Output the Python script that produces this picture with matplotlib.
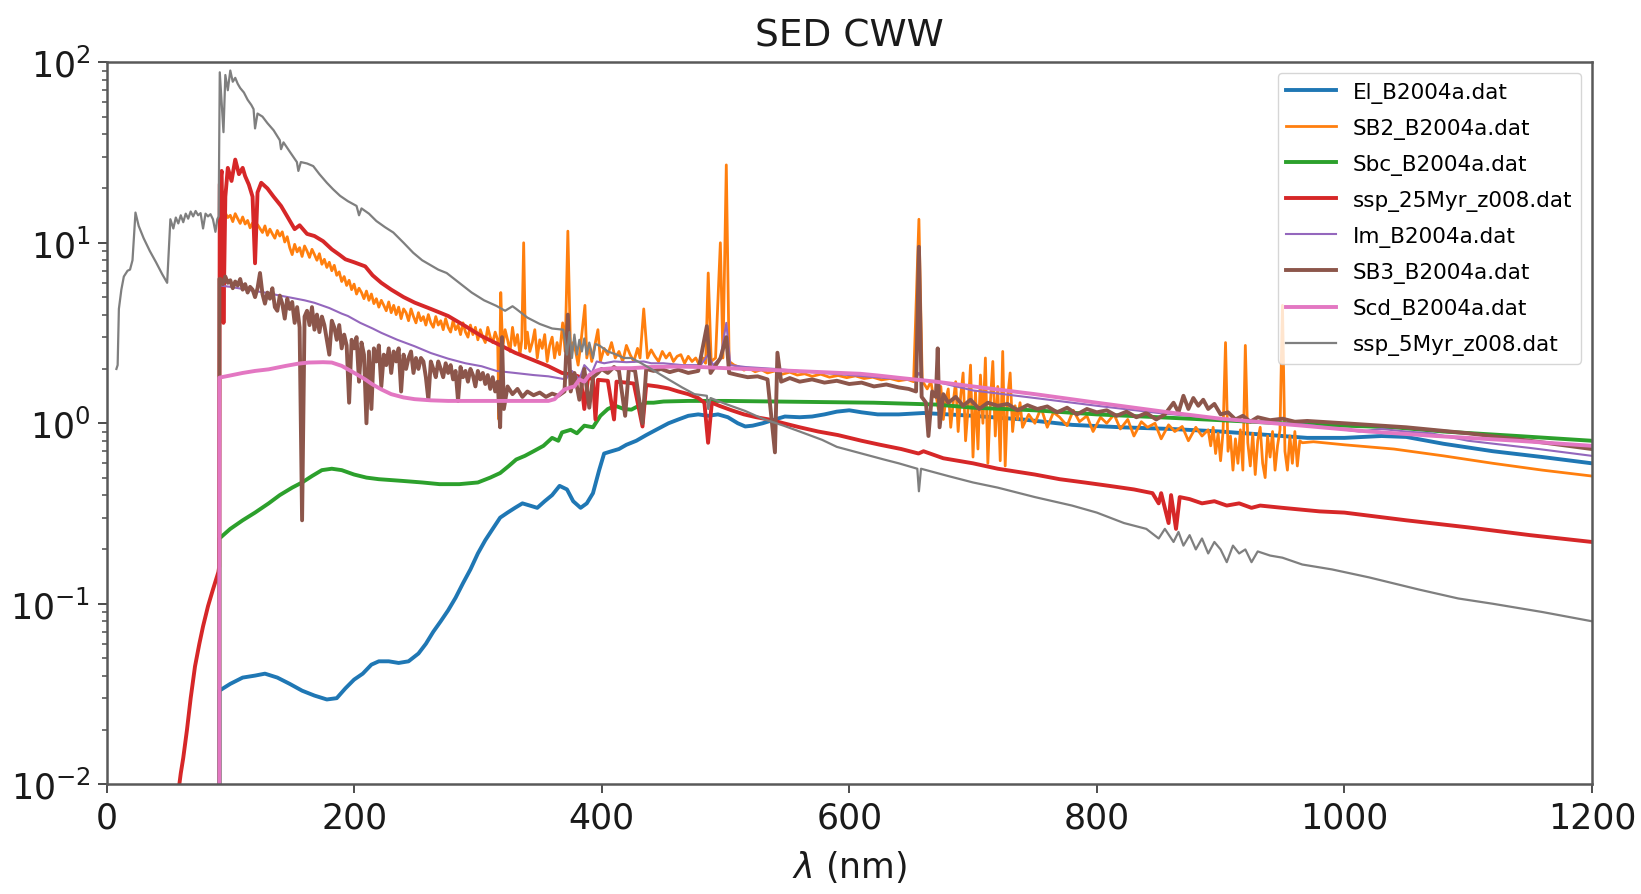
import matplotlib
matplotlib.use("Agg")
import matplotlib.pyplot as plt

# wavelength in nm, flux in arbitrary units (one pair of lists per template)
wl_el = [90.8, 91.2, 100, 110, 120, 128, 138, 148, 158, 168,
         178, 186, 193, 200, 207, 214, 220, 228, 236, 244,
         252, 258, 264, 270, 276, 282, 288, 294, 300, 306,
         312, 318, 324, 330, 336, 342, 348, 354, 360, 366,
         372, 377, 383, 388, 393, 398, 402, 408, 414, 420,
         428, 436, 444, 454, 462, 470, 478, 486, 494, 502,
         510, 516, 522, 530, 540, 548, 560, 570, 580, 590,
         600, 610, 623, 640, 660, 680, 700, 740, 780, 820,
         860, 900, 940, 970, 1000, 1030, 1050, 1080, 1120, 1160,
         1200]
fl_el = [0, 0.033, 0.036, 0.039, 0.040, 0.041, 0.039, 0.036, 0.033, 0.031,
         0.0295, 0.030, 0.034, 0.038, 0.041, 0.046, 0.048, 0.048, 0.047, 0.048,
         0.053, 0.06, 0.07, 0.08, 0.092, 0.108, 0.13, 0.155, 0.19, 0.225,
         0.26, 0.30, 0.32, 0.34, 0.36, 0.35, 0.34, 0.37, 0.40, 0.45,
         0.43, 0.37, 0.34, 0.36, 0.41, 0.55, 0.68, 0.70, 0.72, 0.76,
         0.80, 0.86, 0.92, 1.0, 1.05, 1.1, 1.12, 1.1, 1.12, 1.08,
         1.0, 0.96, 0.97, 1.0, 1.05, 1.09, 1.08, 1.09, 1.12, 1.16,
         1.18, 1.15, 1.12, 1.12, 1.14, 1.12, 1.1, 1.05, 0.98, 0.95,
         0.93, 0.9, 0.86, 0.83, 0.83, 0.85, 0.84, 0.77, 0.70, 0.65,
         0.60]

# SB2: UV part sampled every 2 nm from 92 to 316 nm
fl_sb2_uv = [14.3, 13.4, 14.6, 13.8, 14.2, 13.1, 14.5, 13.6, 12.8, 13.9,
             12.7, 13.3, 12.1, 12.9, 11.8, 12.6, 12.0, 11.4, 12.4, 11.0,
             11.9, 11.2, 10.6, 11.7, 10.9, 11.5, 10.1, 10.8, 9.4, 8.6,
             9.8, 8.9, 9.4, 8.4, 9.6, 9.0, 8.3, 9.2, 8.6, 8.0,
             8.7, 7.6, 8.1, 7.3, 7.8, 7.0, 7.5, 6.6, 6.9, 6.1,
             6.5, 5.8, 6.2, 5.5, 5.9, 5.2, 5.6, 5.3, 4.9, 5.4,
             4.8, 5.2, 4.6, 4.9, 4.4, 4.8, 4.5, 4.2, 4.7, 4.1,
             4.5, 4.0, 4.4, 3.8, 4.3, 4.1, 3.7, 4.3, 3.9, 3.6,
             4.1, 3.7, 3.9, 3.5, 4.0, 3.6, 3.4, 3.9, 3.5, 3.7,
             3.3, 3.8, 3.4, 3.2, 3.7, 3.3, 3.5, 3.1, 3.6, 3.2,
             3.0, 3.5, 3.1, 3.4, 2.9, 3.3, 3.0, 2.8, 3.4, 3.0,
             2.8, 3.2, 2.9]
# SB2: optical part with the emission lines
sb2_opt = [(317, 1.05), (318.5, 5.3), (320, 2.6), (322, 3.3), (324, 2.9), (326, 2.5),
           (328, 3.4), (330, 2.7), (332, 3.1), (334, 2.4), (335.5, 2.9), (337, 10.0),
           (338.5, 2.6), (340, 3.2), (342, 2.5), (344, 2.8), (346, 3.3), (348, 2.3),
           (350, 2.9), (352, 2.6), (354, 3.1), (356, 2.2), (358, 2.7), (360, 3.0),
           (362, 2.3), (364, 2.8), (366, 2.4), (368.5, 3.6), (370.5, 2.5), (372.7, 11.6),
           (375, 2.3), (377, 2.8), (379, 2.5), (381, 2.1), (383, 2.7), (386.5, 4.5),
           (388, 2.3), (390, 2.7), (392, 2.2), (394, 2.6), (397, 3.3), (399, 2.2),
           (402, 2.6), (405, 2.4), (408, 2.8), (411, 2.3), (414, 2.5), (417, 2.2),
           (420, 2.7), (423, 2.4), (426, 2.2), (429, 2.6), (431, 2.3), (434, 4.3),
           (437, 2.3), (440, 2.55), (443, 2.35), (446, 2.2), (449, 2.5), (452, 2.3),
           (455, 2.45), (458, 2.2), (461, 2.35), (464, 2.4), (467, 2.15), (470, 2.35),
           (473, 2.2), (476, 2.3), (479, 2.1), (482, 2.3), (484, 2.15), (486.1, 6.8),
           (488.5, 2.2), (492, 2.3), (495.9, 10.0), (498, 2.3), (500.7, 27.0), (503, 2.2),
           (507, 2.1), (511, 2.05), (515, 1.97), (519, 2.02), (524, 1.93), (529, 1.98),
           (534, 1.9), (540, 1.95), (546, 1.87), (552, 1.92), (558, 1.85), (564, 1.88),
           (570, 1.82), (577, 1.87), (584, 1.8), (591, 1.84), (598, 1.79), (605, 1.83),
           (612, 1.77), (619, 1.8), (626, 1.74), (633, 1.77), (640, 1.72), (647, 1.75),
           (652, 1.7), (656.3, 13.5), (659, 1.72), (663, 1.55), (666, 1.7), (668, 1.4)]
# SB2: noisy red part, every 2 nm from 670 to 740 nm
fl_sb2_red1 = [1.45, 1.2, 1.6, 1.05, 1.35, 1.55, 0.95, 1.3, 1.7, 0.9,
               1.4, 1.9, 0.8, 1.2, 2.1, 0.65, 1.5, 0.72, 1.85, 1.0,
               2.3, 0.6, 1.3, 2.2, 0.85, 1.6, 0.62, 2.5, 0.58, 1.4,
               1.9, 0.9, 1.25, 1.05, 1.3, 0.95]
sb2_mid = [(745, 1.12), (750, 1.0), (755, 1.22), (760, 0.95), (765, 1.15), (770, 1.08),
           (776, 0.97), (781, 1.18), (786, 1.02), (792, 1.1), (797, 0.9), (803, 1.08),
           (808, 1.0), (814, 1.12), (819, 0.93), (825, 1.05), (830, 0.85), (836, 1.02),
           (841, 0.95), (847, 1.0), (852, 0.82), (858, 0.98), (863, 0.9), (869, 0.96),
           (874, 0.8), (880, 0.95), (885, 0.85), (890, 0.92)]
# SB2: every 2 nm from 892 to 966 nm
fl_sb2_red2 = [0.75, 0.95, 0.68, 0.88, 0.62, 0.9, 2.8, 0.7, 0.85, 0.55,
               0.82, 0.6, 0.92, 0.55, 2.7, 0.78, 0.58, 0.88, 0.52, 0.8,
               0.95, 0.6, 0.5, 0.85, 0.65, 0.9, 0.55, 0.75, 0.92, 4.5,
               0.7, 0.55, 0.85, 0.6, 0.9, 0.58, 0.8, 0.78]
sb2_tail = [(975, 0.79), (1000, 0.76), (1040, 0.72), (1080, 0.66), (1120, 0.6),
            (1160, 0.55), (1200, 0.51)]

wl_sbc = [90.8, 91.2, 100, 110, 120, 131, 140, 150, 158, 166,
          174, 182, 190, 200, 210, 220, 238, 255, 269, 285,
          300, 310, 318, 325, 331, 338, 345, 353, 360, 365,
          368, 375, 380, 386, 393, 399, 405, 411, 418, 424,
          430, 436, 442, 450, 470, 500, 540, 580, 620, 670,
          700, 750, 800, 850, 900, 950, 1000, 1040, 1080, 1140,
          1200]
fl_sbc = [0, 0.23, 0.26, 0.29, 0.32, 0.36, 0.40, 0.44, 0.47, 0.51,
          0.55, 0.56, 0.55, 0.52, 0.50, 0.49, 0.48, 0.47, 0.46, 0.46,
          0.47, 0.50, 0.53, 0.58, 0.63, 0.66, 0.70, 0.75, 0.83, 0.80,
          0.89, 0.92, 0.88, 0.97, 0.95, 1.1, 1.2, 1.25, 1.2, 1.19,
          1.25, 1.3, 1.3, 1.32, 1.33, 1.33, 1.32, 1.31, 1.3, 1.27,
          1.22, 1.18, 1.12, 1.08, 1.04, 1.0, 0.97, 0.95, 0.9, 0.85,
          0.8]

wl_ssp25 = [57, 60, 62, 65, 68, 71.5, 75, 78, 82, 86,
            90.4, 91.0, 91.5, 93, 94.5, 96, 98, 101, 104, 107,
            110, 112, 115, 118, 120, 122, 125, 130, 135, 141,
            146, 152, 156, 162, 168, 175, 182, 188, 193, 200,
            209, 215, 222, 230, 240, 249, 262, 276, 290, 303,
            316, 330, 344, 357, 368, 378, 383, 386, 389, 393,
            395, 397, 405, 410, 412, 420, 426, 433, 436, 445,
            454, 462, 470, 478, 483, 486, 489, 495, 505, 515,
            525, 535, 547, 560, 575, 591, 610, 625, 642, 656,
            660, 676, 700, 720, 750, 770, 790, 810, 830, 845,
            850, 852, 858, 860, 864, 867, 875, 885, 895, 905,
            915, 925, 932, 950, 980, 1000, 1050, 1100, 1150, 1200]
fl_ssp25 = [0.008, 0.0115, 0.014, 0.020, 0.030, 0.045, 0.060, 0.075, 0.097, 0.12,
            0.15, 0.16, 21, 25, 3.6, 18, 26, 22, 28.9, 24,
            26, 23.4, 21, 18, 7.7, 19, 21.5, 20, 18, 16,
            14, 11.9, 12.5, 11.2, 10.9, 10.2, 9.2, 8.6, 8.1, 7.8,
            7.4, 6.6, 6.0, 5.5, 5.0, 4.66, 4.3, 3.93, 3.45, 3.04,
            2.75, 2.46, 2.25, 2.07, 1.9, 1.85, 1.8, 1.2, 1.78, 1.76,
            1.05, 1.74, 1.72, 1.05, 1.7, 1.68, 1.66, 0.96, 1.63, 1.6,
            1.56, 1.5, 1.45, 1.38, 1.3, 0.78, 1.3, 1.25, 1.18, 1.12,
            1.08, 1.05, 1.0, 0.95, 0.9, 0.86, 0.8, 0.76, 0.72, 0.68,
            0.7, 0.64, 0.6, 0.56, 0.52, 0.49, 0.47, 0.45, 0.43, 0.41,
            0.36, 0.41, 0.28, 0.40, 0.26, 0.39, 0.38, 0.36, 0.37, 0.35,
            0.36, 0.34, 0.35, 0.34, 0.325, 0.32, 0.29, 0.265, 0.24, 0.22]

wl_im = [90.8, 91.2, 100, 110, 120, 128, 140, 150, 160, 168,
         180, 190, 195, 205, 215, 222, 235, 249, 262, 276,
         290, 303, 315, 330, 345, 357, 365, 371, 376, 382,
         386, 392, 396, 402, 410, 420, 434, 440, 450, 465,
         480, 486, 490, 496, 500.7, 504, 516, 540, 570, 600,
         630, 653, 656.3, 660, 670, 700, 750, 800, 850, 900,
         970, 1012, 1030, 1050, 1070, 1100, 1150, 1200]
fl_im = [0, 5.8, 5.7, 5.55, 5.4, 5.3, 5.1, 4.95, 4.8, 4.65,
         4.35, 4.05, 3.93, 3.6, 3.35, 3.17, 2.9, 2.67, 2.45, 2.28,
         2.15, 2.07, 1.95, 1.9, 1.85, 1.82, 1.78, 1.75, 1.95, 1.75,
         2.1, 1.9, 2.2, 2.15, 2.2, 2.18, 2.2, 2.15, 2.15, 2.1,
         2.1, 2.4, 2.1, 2.3, 3.6, 2.1, 2.05, 2.0, 1.92, 1.85,
         1.78, 1.74, 1.9, 1.73, 1.7, 1.52, 1.38, 1.25, 1.14, 1.06,
         0.98, 0.9, 0.93, 0.9, 0.88, 0.8, 0.73, 0.66]

# SB3: UV part sampled every 2 nm from 92 to 316 nm
fl_sb3_uv = [6.3, 5.9, 6.5, 6.0, 6.2, 5.6, 6.1, 5.8, 6.3, 5.5,
             5.9, 5.3, 5.7, 5.5, 5.0, 5.6, 6.8, 5.2, 4.6, 5.3,
             4.9, 5.6, 4.4, 4.2, 5.1, 4.6, 3.8, 4.9, 4.3, 4.7,
             3.6, 4.4, 3.4, 0.29, 3.9, 4.2, 3.5, 4.4, 3.3, 4.0,
             3.2, 3.9, 3.5, 2.9, 2.4, 3.7, 3.4, 2.9, 3.5, 2.6,
             3.1, 2.7, 1.3, 2.9, 2.6, 3.0, 1.7, 2.8, 2.4, 1.0,
             2.5, 1.2, 2.6, 2.2, 2.7, 1.6, 2.4, 2.1, 2.6, 1.9,
             2.5, 2.2, 2.6, 1.5, 2.4, 2.0, 2.3, 2.5, 1.9, 2.3,
             2.0, 2.3, 2.2, 1.8, 1.35, 2.2, 2.0, 1.8, 2.2, 2.0,
             1.8, 2.15, 1.9, 2.1, 1.75, 1.95, 1.33, 2.05, 1.8, 1.95,
             1.7, 2.0, 1.85, 1.6, 1.95, 1.75, 1.9, 1.65, 1.85, 1.55,
             1.8, 1.5, 1.7]
sb3_opt = [(318, 0.95), (319.5, 3.0), (321, 1.2), (324, 1.6), (328, 1.45), (332, 1.55),
           (336, 1.4), (340, 1.5), (345, 1.43), (350, 1.48), (355, 1.4), (360, 1.46),
           (365, 1.42), (370, 1.5), (372.7, 4.0), (375, 1.5), (378, 1.9), (382, 1.35),
           (386, 2.0), (390, 1.22), (393, 1.8), (397, 1.9), (400, 2.0), (405, 1.9),
           (410, 2.05), (414, 1.95), (419, 1.1), (422, 2.0), (427, 1.95), (433, 1.0),
           (436, 2.0), (442, 1.95), (448, 2.0), (455, 1.92), (462, 1.98), (470, 1.9),
           (478, 1.95), (485, 3.45), (488, 1.9), (496, 2.3), (500.7, 3.0), (503, 1.9),
           (510, 1.85), (518, 1.8), (526, 1.82), (534, 1.75), (540, 0.69), (542, 2.46),
           (545, 1.7), (552, 1.78), (560, 1.7), (570, 1.75), (580, 1.68), (590, 1.72),
           (600, 1.65), (610, 1.68), (620, 1.6), (630, 1.64), (640, 1.58), (648, 1.55),
           (654, 1.5), (656.3, 9.5), (658.5, 1.4), (662, 1.3), (664, 0.85), (667, 1.5),
           (670, 1.4), (671.5, 2.6), (673, 0.95), (676, 1.45), (680, 1.3), (686, 1.4),
           (692, 1.25), (698, 1.35), (705, 1.2), (712, 1.3), (720, 1.25), (728, 1.28),
           (736, 1.18), (744, 1.26), (752, 1.2), (760, 1.24), (768, 1.15), (776, 1.22),
           (784, 1.12), (792, 1.2), (800, 1.15), (808, 1.18), (816, 1.1), (824, 1.16),
           (832, 1.08), (840, 1.14), (848, 1.05), (855, 1.12), (862, 1.3), (866, 1.15),
           (870, 1.42), (874, 1.2), (878, 1.38), (882, 1.25), (886, 1.35), (890, 1.2),
           (895, 1.28), (900, 1.12), (906, 1.15), (912, 1.05), (918, 1.1), (924, 1.02),
           (930, 1.08), (940, 1.04), (950, 1.06), (960, 1.02), (970, 1.03), (1000, 1.0),
           (1050, 0.95), (1100, 0.88), (1150, 0.8), (1200, 0.72)]

wl_scd = [90.8, 91.2, 100, 110, 120, 131, 145, 155, 163, 175,
          182, 190, 195, 202, 209, 215, 222, 230, 240, 249,
          262, 276, 300, 330, 357, 362, 366, 370, 375, 378,
          382, 386, 390, 395, 399, 410, 424, 440, 460, 480,
          500, 516, 540, 570, 609, 623, 642, 670, 700, 750,
          800, 858, 900, 966, 1020, 1074, 1140, 1200]
fl_scd = [0, 1.79, 1.84, 1.9, 1.95, 1.99, 2.08, 2.14, 2.17, 2.18,
          2.17, 2.08, 1.99, 1.87, 1.75, 1.64, 1.54, 1.45, 1.39, 1.36,
          1.34, 1.33, 1.33, 1.33, 1.33, 1.36, 1.45, 1.54, 1.58, 1.6,
          1.75, 1.7, 1.85, 1.95, 1.99, 2.02, 2.02, 2.05, 2.06, 2.05,
          2.02, 2.0, 1.97, 1.93, 1.88, 1.84, 1.78, 1.7, 1.6, 1.45,
          1.3, 1.15, 1.06, 0.97, 0.9, 0.85, 0.8, 0.75]

wl_ssp5 = [8, 9, 10, 12, 14, 17, 19, 21, 23.4, 26,
           30, 35, 40, 45, 49, 51.6, 54, 56, 58, 60,
           62, 64, 66, 68, 70, 72, 74, 76, 78, 80,
           82, 84, 86, 88, 89.5, 90.6, 91.5, 93, 94.5, 96,
           98, 100, 102, 104, 106, 108, 111, 114, 117, 118.8,
           120, 122, 126, 130, 135, 140, 141, 143, 148, 153.8,
           155, 157, 162, 167, 172, 178, 183, 188.7, 195, 202,
           204, 206, 212, 218, 225, 231.7, 240, 247.8, 255, 262,
           268, 274.8, 285, 295, 305, 315, 322, 328, 331, 340,
           350, 360, 369, 372, 374, 376, 378, 380, 382, 384,
           386, 388, 390, 393, 395, 398, 405, 412, 418, 424,
           432, 440, 454, 465, 475, 485, 486.1, 488, 500, 516,
           530, 547, 560, 578, 590, 610, 628, 640, 655, 656.3,
           658, 680, 700, 720, 750, 780, 800, 822, 840, 850,
           855, 862, 866, 870, 875, 880, 885, 890, 895, 900,
           905, 910, 915, 920, 925, 930, 940, 950, 966, 990,
           1020, 1060, 1092, 1120, 1160, 1200]
fl_ssp5 = [2.0, 2.1, 4.3, 5.5, 6.5, 7.0, 7.1, 8.0, 14.7, 12.4,
           10.6, 9.0, 7.8, 6.7, 6.0, 13.5, 12.0, 13.8, 12.8, 14.2,
           13.0, 14.5, 13.6, 14.9, 14.0, 15.0, 14.2, 14.6, 12.0, 14.5,
           14.0, 14.4, 13.5, 11.5, 13.5, 14.0, 88, 60, 41, 85,
           70, 90, 78, 82, 76, 72, 68, 62, 58, 55,
           43, 52, 50, 46, 42, 37, 33, 36, 32, 28,
           25, 28, 27.5, 26.6, 24, 21.5, 19.8, 18.2, 17, 16,
           14.2, 15.5, 14.5, 13.2, 12.2, 11.4, 10.0, 8.8, 8.0, 7.5,
           7.1, 6.8, 6.0, 5.3, 4.8, 4.47, 4.2, 4.45, 4.3, 3.85,
           3.55, 3.35, 3.3, 2.4, 3.2, 2.3, 3.1, 2.4, 2.9, 2.5,
           2.95, 2.4, 2.8, 2.3, 2.75, 2.7, 2.5, 2.4, 2.3, 2.3,
           2.15, 2.0, 1.75, 1.58, 1.45, 1.42, 1.2, 1.38, 1.28, 1.17,
           1.06, 0.97, 0.9, 0.81, 0.74, 0.68, 0.63, 0.6, 0.56, 0.42,
           0.56, 0.51, 0.47, 0.44, 0.39, 0.35, 0.32, 0.28, 0.26, 0.23,
           0.26, 0.22, 0.25, 0.21, 0.24, 0.2, 0.23, 0.19, 0.22, 0.2,
           0.17, 0.21, 0.19, 0.2, 0.17, 0.195, 0.185, 0.18, 0.165, 0.155,
           0.14, 0.12, 0.107, 0.1, 0.09, 0.08]

# stitch the SB2 and SB3 pieces together
wl_sb2 = ([90.8, 91.2] + list(range(92, 317, 2)) + [w for w, f in sb2_opt]
          + list(range(670, 741, 2)) + [w for w, f in sb2_mid]
          + list(range(892, 967, 2)) + [w for w, f in sb2_tail])
fl_sb2 = ([0, 14.0] + fl_sb2_uv + [f for w, f in sb2_opt] + fl_sb2_red1
          + [f for w, f in sb2_mid] + fl_sb2_red2 + [f for w, f in sb2_tail])
wl_sb3 = [90.8, 91.2] + list(range(92, 317, 2)) + [w for w, f in sb3_opt]
fl_sb3 = [0, 6.3] + fl_sb3_uv + [f for w, f in sb3_opt]

templates = [
    ("El_B2004a.dat", wl_el, fl_el, "#1f77b4", 2.8),
    ("SB2_B2004a.dat", wl_sb2, fl_sb2, "#ff7f0e", 2.0),
    ("Sbc_B2004a.dat", wl_sbc, fl_sbc, "#2ca02c", 2.8),
    ("ssp_25Myr_z008.dat", wl_ssp25, fl_ssp25, "#d62728", 2.8),
    ("Im_B2004a.dat", wl_im, fl_im, "#9467bd", 1.5),
    ("SB3_B2004a.dat", wl_sb3, fl_sb3, "#8c564b", 2.8),
    ("Scd_B2004a.dat", wl_scd, fl_scd, "#e377c2", 2.8),
    ("ssp_5Myr_z008.dat", wl_ssp5, fl_ssp5, "#7f7f7f", 1.6),
]

fig = plt.figure(figsize=(16.41, 8.95), dpi=100)
ax = fig.add_axes([0.0649, 0.1226, 0.9052, 0.8067])

for name, wl, fl, col, lw in templates:
    ax.plot(wl, fl, color=col, lw=lw, label=name)

ax.set_yscale("log")
ax.set_xlim(0, 1200)
ax.set_ylim(1e-2, 1e2)
ax.set_xticks(range(0, 1201, 200))

ax.set_title("SED CWW", fontsize=27, pad=12, color="0.1")
ax.set_xlabel(r"$\lambda$ (nm)", fontsize=25, labelpad=10, color="0.1")
ax.tick_params(which="major", labelsize=25, length=6.5, width=1.4, pad=5,
               color="0.3", labelcolor="0.1")
ax.tick_params(which="minor", length=3.8, width=1.1, color="0.3")
for sp in ax.spines.values():
    sp.set_color("0.35")
    sp.set_linewidth(1.8)

ax.legend(loc="upper right", fontsize=15.5, handlelength=2.3, labelspacing=0.7,
          framealpha=0.8)

fig.savefig("out.png", dpi=100)
